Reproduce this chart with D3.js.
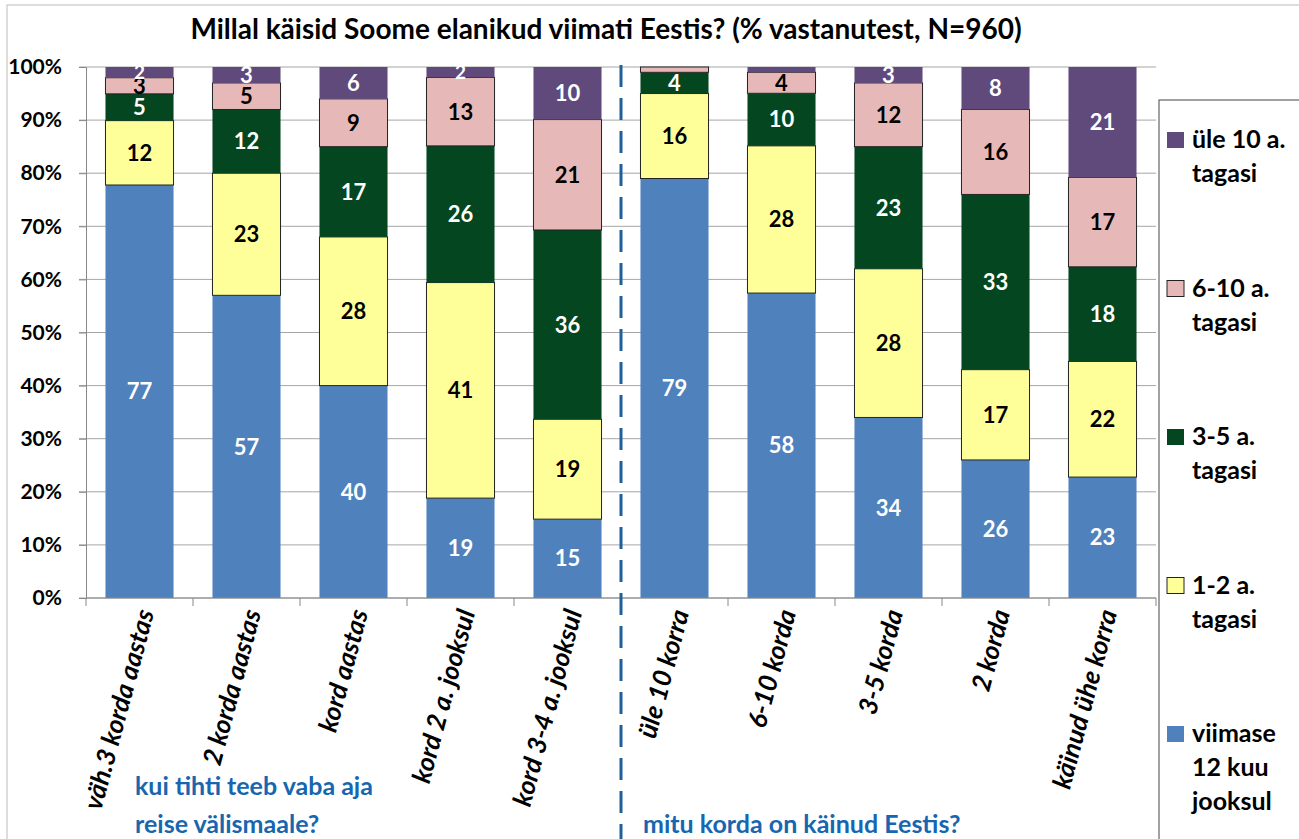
<!DOCTYPE html>
<html lang="et">
<head>
    <meta charset="UTF-8">
    <title>Millal käisid Soome elanikud viimati Eestis?</title>
    <script src="https://d3js.org/d3.v7.min.js"></script>
    <style>
        body { margin: 0; background: #fff; }
        svg { display: block; font-family: Lato, "Open Sans", sans-serif; }
    </style>
</head>
<body>
    <svg width="1299" height="839"></svg>
    <script>
        // andmed (% vastanutest)
        const categories = ["väh.3 korda aastas", "2 korda aastas", "kord aastas", "kord 2 a. jooksul", "kord 3-4 a. jooksul",
                            "üle 10 korra", "6-10 korda", "3-5 korda", "2 korda", "käinud ühe korra"];
        const seriesNames = ["viimase 12 kuu jooksul", "1-2 a. tagasi", "3-5 a. tagasi", "6-10 a. tagasi", "üle 10 a. tagasi"];
        const viimase12kuu = [77, 57, 40, 19, 15, 79, 58, 34, 26, 23];
        const aastat1_2 = [12, 23, 28, 41, 19, 16, 28, 28, 17, 22];
        const aastat3_5 = [5, 12, 17, 26, 36, 4, 10, 23, 33, 18];
        const aastat6_10 = [3, 5, 9, 13, 21, 1, 4, 12, 16, 17];
        const ule10 = [2, 3, 6, 2, 10, 0, 1, 3, 8, 21];
        const yTicks = [0, 0.1, 0.2, 0.3, 0.4, 0.5, 0.6, 0.7, 0.8, 0.9, 1];

        const colors = ["#4F81BD", "#FFFF99", "#03461F", "#E6B9B8", "#604A7B"];
        const labelColors = ["#fff", "#000", "#fff", "#000", "#fff"];
        const outlined = [false, true, false, true, false];

        const svg = d3.select("svg");
        const plotLeft = 86, plotRight = 1156, plotTop = 67, plotBottom = 598;

        // raam
        svg.append("rect")
            .attr("x", 7).attr("y", 5).attr("width", 1320).attr("height", 860)
            .attr("fill", "none").attr("stroke", "#bbb");

        // pealkiri
        svg.append("text")
            .attr("x", 606).attr("y", 39)
            .attr("text-anchor", "middle")
            .style("font-size", "28px").style("font-weight", "bold")
            .text("Millal käisid Soome elanikud viimati Eestis? (% vastanutest, N=960)");

        const rows = categories.map((c, i) => ({
            cat: c,
            s0: viimase12kuu[i], s1: aastat1_2[i], s2: aastat3_5[i], s3: aastat6_10[i], s4: ule10[i]
        }));
        const keys = ["s0", "s1", "s2", "s3", "s4"];
        const stacked = d3.stack().keys(keys).offset(d3.stackOffsetExpand)(rows);

        const x = d3.scaleBand()
            .domain(categories)
            .range([plotLeft, plotRight])
            .paddingInner(0.364)
            .paddingOuter(0.182);

        const y = d3.scaleLinear().domain([0, 1]).range([plotBottom, plotTop]);

        // ruudustik
        svg.append("g")
            .selectAll("line")
            .data(yTicks)
            .join("line")
            .attr("x1", plotLeft - 7).attr("x2", plotRight)
            .attr("y1", d => y(d)).attr("y2", d => y(d))
            .attr("stroke", "#a6a6a6");

        // y telg
        const yAxis = svg.append("g")
            .attr("transform", `translate(${plotLeft},0)`)
            .call(d3.axisLeft(y).tickValues(yTicks).tickFormat(d3.format(".0%")).tickSize(7).tickPadding(17));
        yAxis.select(".domain").attr("stroke", "#888");
        yAxis.selectAll(".tick line").attr("stroke", "#888");
        yAxis.selectAll("text")
            .style("font-size", "21px").style("font-weight", "bold")
            .style("font-family", "Lato, sans-serif").attr("fill", "#000");

        // tulbad
        const layer = svg.append("g")
            .selectAll("g")
            .data(stacked)
            .join("g")
            .attr("fill", (d, i) => colors[i]);

        layer.selectAll("rect")
            .data((d, i) => d.map(p => ({ p: p, s: i })))
            .join("rect")
            .attr("x", d => x(d.p.data.cat))
            .attr("width", x.bandwidth())
            .attr("y", d => y(d.p[1]))
            .attr("height", d => y(d.p[0]) - y(d.p[1]))
            .attr("stroke", d => outlined[d.s] ? "#222" : "none")
            .attr("stroke-width", 1);

        // andmesildid
        layer.selectAll("text")
            .data((d, i) => d.map(p => ({ p: p, s: i, v: p.data[keys[i]] })).filter(d => d.v >= 2))
            .join("text")
            .attr("x", d => x(d.p.data.cat) + x.bandwidth() / 2)
            .attr("y", d => (y(d.p[0]) + y(d.p[1])) / 2)
            .attr("dy", "0.36em")
            .attr("text-anchor", "middle")
            .attr("fill", d => labelColors[d.s])
            .style("font-size", d => (y(d.p[0]) - y(d.p[1])) < 14 ? "19px" : "22px")
            .style("font-weight", "bold")
            .text(d => d.v);

        // x telg
        const xAxisLine = svg.append("g");
        xAxisLine.append("line")
            .attr("x1", plotLeft).attr("x2", plotRight)
            .attr("y1", plotBottom).attr("y2", plotBottom)
            .attr("stroke", "#888");
        xAxisLine.selectAll("line.t")
            .data(d3.range(categories.length + 1))
            .join("line")
            .attr("class", "t")
            .attr("x1", i => plotLeft + i * x.step()).attr("x2", i => plotLeft + i * x.step())
            .attr("y1", plotBottom).attr("y2", plotBottom + 8)
            .attr("stroke", "#888");

        svg.append("g")
            .selectAll("text")
            .data(categories)
            .join("text")
            .attr("transform", d => `translate(${x(d) + x.bandwidth() / 2 + 6},${plotBottom + 12}) rotate(-75)`)
            .attr("text-anchor", "end")
            .attr("dy", "0.35em")
            .style("font-size", "26px").style("font-weight", "bold").style("font-style", "italic")
            .text(d => d);

        // eraldusjoon
        const mid = plotLeft + 5 * x.step();
        svg.append("line")
            .attr("x1", mid).attr("x2", mid)
            .attr("y1", plotTop - 2).attr("y2", 839)
            .attr("stroke", "#1F5F9A").attr("stroke-width", 3)
            .attr("stroke-dasharray", "22,11");

        // gruppide nimed
        const groupLabels = svg.append("g")
            .attr("fill", "#1766B0")
            .style("font-size", "25px").style("font-weight", "bold");
        groupLabels.append("text").attr("x", 135).attr("y", 795).text("kui tihti teeb vaba aja");
        groupLabels.append("text").attr("x", 135).attr("y", 833).text("reise välismaale?");
        groupLabels.append("text").attr("x", 643).attr("y", 833).text("mitu korda on käinud Eestis?");

        // legend
        svg.append("rect")
            .attr("x", 1159).attr("y", 100).attr("width", 200).attr("height", 800)
            .attr("fill", "#fff").attr("stroke", "#444");

        const legendLines = [
            ["viimase", "12 kuu", "jooksul"],
            ["1-2 a.", "tagasi"],
            ["3-5 a.", "tagasi"],
            ["6-10 a.", "tagasi"],
            ["üle 10 a.", "tagasi"]
        ];
        const legendY = d3.scaleLinear().domain([4, 0]).range([148, 742]);
        const legend = svg.append("g")
            .selectAll("g")
            .data(seriesNames)
            .join("g")
            .attr("transform", (d, i) => `translate(1167,${legendY(i)})`);
        legend.append("rect")
            .attr("x", 0).attr("y", -16).attr("width", 17).attr("height", 16)
            .attr("fill", (d, i) => colors[i])
            .attr("stroke", (d, i) => outlined[i] ? "#222" : "none");
        legend.append("text")
            .style("font-size", "25px").style("font-weight", "bold")
            .selectAll("tspan")
            .data((d, i) => legendLines[i])
            .join("tspan")
            .attr("x", 25)
            .attr("y", (d, j) => j * 34)
            .text(d => d);
    </script>
</body>
</html>
